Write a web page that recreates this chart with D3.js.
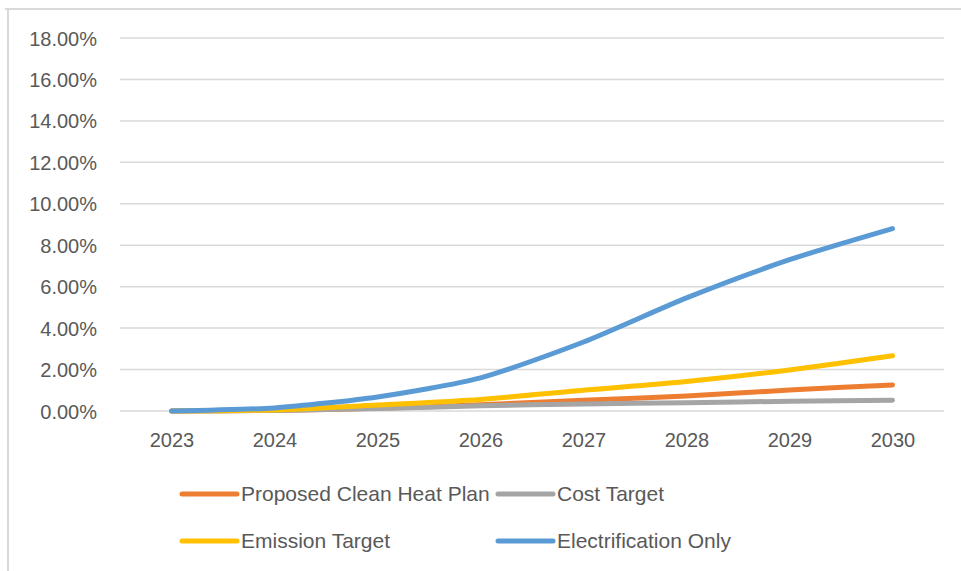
<!DOCTYPE html>
<html>
<head>
<meta charset="utf-8">
<script src="https://cdn.jsdelivr.net/npm/d3@7"></script>
<style>
  body { margin: 0; background: #fff; }
  text { font-family: "Liberation Sans", Arial, sans-serif; fill: #595959; }
</style>
</head>
<body>
<svg id="chart"></svg>
<script>
var years = ["2023", "2024", "2025", "2026", "2027", "2028", "2029", "2030"];
var cleanHeatPlan = [0, 0.0003, 0.0013, 0.003, 0.0052, 0.0072, 0.0101, 0.0126];
var costTarget = [0, 0.0003, 0.0012, 0.0025, 0.0034, 0.004, 0.0047, 0.0052];
var emissionTarget = [0, 0.0005, 0.0029, 0.0056, 0.01, 0.0142, 0.0198, 0.0267];
var electrificationOnly = [0, 0.0015, 0.0068, 0.016, 0.0333, 0.0546, 0.073, 0.088];
var yTicks = [0, 0.02, 0.04, 0.06, 0.08, 0.10, 0.12, 0.14, 0.16, 0.18];

var series = [
    { name: "Proposed Clean Heat Plan", values: cleanHeatPlan, color: "#ED7D31" },
    { name: "Cost Target", values: costTarget, color: "#A5A5A5" },
    { name: "Emission Target", values: emissionTarget, color: "#FFC000" },
    { name: "Electrification Only", values: electrificationOnly, color: "#5B9BD5" }
];

var width = 961, height = 571;
var svg = d3.select("#chart").attr("width", width).attr("height", height);

// chart border (only top and left visible in the crop)
svg.append("line").attr("x1", 5).attr("x2", width).attr("y1", 9).attr("y2", 9)
    .style("stroke", "#d9d9d9").style("stroke-width", 2);
svg.append("line").attr("x1", 8).attr("x2", 8).attr("y1", 9).attr("y2", height)
    .style("stroke", "#d9d9d9").style("stroke-width", 2);

var x = d3.scalePoint().domain(years).range([120, 944]).padding(0.5);
var y = d3.scaleLinear().domain([0, 0.18]).range([411, 38]);

// gridlines
svg.append("g").selectAll("line")
    .data(yTicks)
    .enter().append("line")
    .attr("x1", 120).attr("x2", 944)
    .attr("y1", function (d) { return y(d); })
    .attr("y2", function (d) { return y(d); })
    .style("stroke", "#d9d9d9").style("stroke-width", 1.5);

// y axis labels
var yAxis = d3.axisLeft(y).tickValues(yTicks).tickFormat(d3.format(".2%")).tickSize(0).tickPadding(0);
var gy = svg.append("g").attr("transform", "translate(97,0)").call(yAxis);
gy.select(".domain").remove();
gy.selectAll("text").style("font-size", "20px").style("font-family", null).attr("dy", "0.35em");

// x axis labels
var xAxis = d3.axisBottom(x).tickSize(0).tickPadding(0);
var gx = svg.append("g").attr("transform", "translate(0,433)").call(xAxis);
gx.select(".domain").remove();
gx.selectAll("text").style("font-size", "20px").style("font-family", null).attr("dy", "0.71em");

var line = d3.line()
    .x(function (d, i) { return x(years[i]); })
    .y(function (d) { return y(d); })
    .curve(d3.curveCardinal.tension(0.3));

svg.append("g").selectAll("path")
    .data(series)
    .enter().append("path")
    .attr("d", function (d) { return line(d.values); })
    .style("fill", "none")
    .style("stroke", function (d) { return d.color; })
    .style("stroke-width", 5)
    .style("stroke-linecap", "round")
    .style("stroke-linejoin", "round");

// legend, two rows
var legendPos = [[182, 494], [498, 494], [182, 541], [498, 541]];
var legend = svg.append("g").selectAll("g")
    .data(series)
    .enter().append("g")
    .attr("transform", function (d, i) { return "translate(" + legendPos[i][0] + "," + legendPos[i][1] + ")"; });

legend.append("line")
    .attr("x1", 0).attr("x2", 55).attr("y1", 0).attr("y2", 0)
    .style("stroke", function (d) { return d.color; })
    .style("stroke-width", 5)
    .style("stroke-linecap", "round");

legend.append("text")
    .attr("x", 59).attr("dy", "0.35em")
    .style("font-size", "21px")
    .text(function (d) { return d.name; });
</script>
</body>
</html>
